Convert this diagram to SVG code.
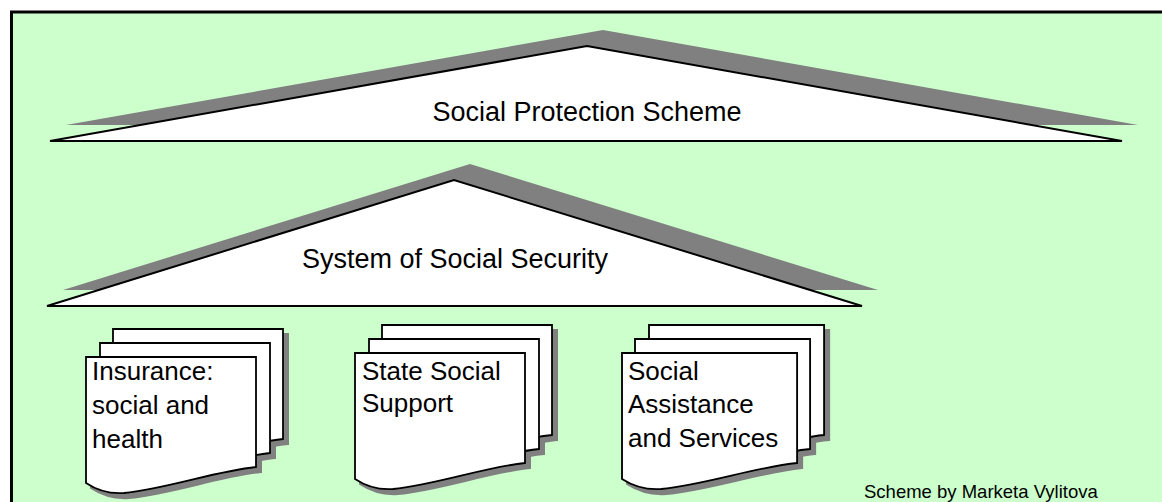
<svg xmlns="http://www.w3.org/2000/svg" xmlns:xlink="http://www.w3.org/1999/xlink" width="1162" height="502" viewBox="0 0 1162 502">
  <style>
    .shadow { fill: #808080; stroke: none; }
    .roof { fill: #ffffff; stroke: #000000; stroke-width: 2; stroke-linejoin: miter; }
    .page { fill: #ffffff; stroke: #000000; stroke-width: 1.8; }
    .pageShadow { fill: #808080; stroke: #808080; stroke-width: 2; }
    .label { font-family: "Liberation Sans", Arial, sans-serif; fill: #000000; }
    .title { font-size: 27px; }
    .big { font-size: 26px; }
    .small { font-size: 18.5px; }
  </style>
  <defs>
    <!-- single sheet with a wavy bottom edge, local origin at top-left -->
    <path id="sheet" d="M0,0 H170 V110 C130,114 80,132 38,136 C24,137 12,134 0,126 Z"/>
  </defs>

  <!-- background panel -->
  <rect x="11.5" y="12" width="1170" height="510" fill="#ccffcc" stroke="#000000" stroke-width="3"/>

  <g id="social-protection-scheme">
    <polygon class="shadow" points="66,125 603,30 1138,125"/>
    <polygon class="roof" points="50,141 587,46 1122,141"/>
    <text class="label title" x="587" y="121" text-anchor="middle">Social Protection Scheme</text>
  </g>

  <g id="system-of-social-security">
    <polygon class="shadow" points="63,290 470,164 878,290"/>
    <polygon class="roof" points="47,306 454,180 862,306"/>
    <text class="label title" x="455" y="268" text-anchor="middle">System of Social Security</text>
  </g>

  <g id="insurance">
    <g transform="translate(5,5)">
      <use xlink:href="#sheet" class="pageShadow" transform="translate(113,329)"/>
      <use xlink:href="#sheet" class="pageShadow" transform="translate(100,343)"/>
      <use xlink:href="#sheet" class="pageShadow" transform="translate(86,357)"/>
    </g>
    <use xlink:href="#sheet" class="page" transform="translate(113,329)"/>
    <use xlink:href="#sheet" class="page" transform="translate(100,343)"/>
    <use xlink:href="#sheet" class="page" transform="translate(86,357)"/>
    <text class="label big" x="92" y="380">Insurance:</text>
    <text class="label big" x="92" y="414">social and</text>
    <text class="label big" x="92" y="448">health</text>
  </g>

  <g id="state-social-support">
    <g transform="translate(5,5)">
      <use xlink:href="#sheet" class="pageShadow" transform="translate(382,325)"/>
      <use xlink:href="#sheet" class="pageShadow" transform="translate(369,339)"/>
      <use xlink:href="#sheet" class="pageShadow" transform="translate(355,353)"/>
    </g>
    <use xlink:href="#sheet" class="page" transform="translate(382,325)"/>
    <use xlink:href="#sheet" class="page" transform="translate(369,339)"/>
    <use xlink:href="#sheet" class="page" transform="translate(355,353)"/>
    <text class="label big" x="362" y="380">State Social</text>
    <text class="label big" x="362" y="412">Support</text>
  </g>

  <g id="social-assistance">
    <g transform="translate(5,5)">
      <use xlink:href="#sheet" class="pageShadow" transform="translate(649,325) scale(1.03,1)"/>
      <use xlink:href="#sheet" class="pageShadow" transform="translate(635,339) scale(1.03,1)"/>
      <use xlink:href="#sheet" class="pageShadow" transform="translate(622,353) scale(1.03,1)"/>
    </g>
    <use xlink:href="#sheet" class="page" transform="translate(649,325) scale(1.03,1)"/>
    <use xlink:href="#sheet" class="page" transform="translate(635,339) scale(1.03,1)"/>
    <use xlink:href="#sheet" class="page" transform="translate(622,353) scale(1.03,1)"/>
    <text class="label big" x="628" y="380">Social</text>
    <text class="label big" x="628" y="413">Assistance</text>
    <text class="label big" x="628" y="447">and Services</text>
  </g>

  <text class="label small" x="864" y="498">Scheme by Marketa Vylitova</text>
</svg>
